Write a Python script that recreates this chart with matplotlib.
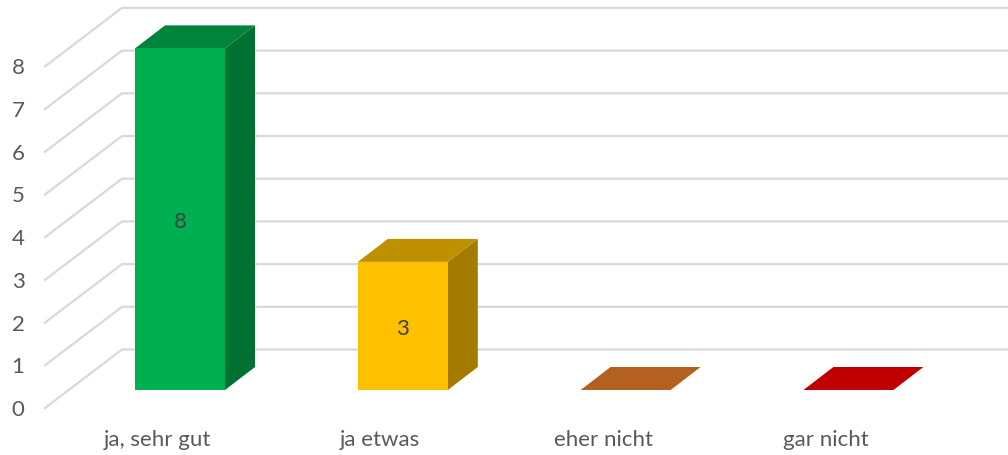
import matplotlib
matplotlib.use("Agg")
import matplotlib.pyplot as plt
from matplotlib.patches import Polygon

plt.rcParams['font.family'] = ['Lato', 'DejaVu Sans']

categories = ["ja, sehr gut", "ja etwas", "eher nicht", "gar nicht"]
values = [8, 3, 0, 0]
y_ticks = [0, 1, 2, 3, 4, 5, 6, 7, 8]

# front, top, side colours of each column
front_colors = ["#00B050", "#FFC000", "#C55A11", "#C00000"]
top_colors = ["#00843C", "#BF9000", "#B46020", "#C00000"]
side_colors = ["#007033", "#A37B00", "#8A4A10", "#8A0000"]

text_color = "#595959"
grid_color = "#D9D9D9"

# sizes in axis units, 1 category = 222.8 px, 1 value = 42.7 px
bar_w = 90 / 222.8
depth_x = 30 / 222.8
depth_y = 23 / 42.7

fig = plt.figure(figsize=(10.08, 4.55), dpi=100)
ax = fig.add_axes([0, 0, 1, 1])
ax.set_xlim(-180 / 222.8, (1008 - 180) / 222.8)
ax.set_ylim(-65 / 42.7, 390 / 42.7)
ax.axis("off")

# gridlines, floor sits a bit off the columns
grid_x0, grid_x1, grid_x2 = -135 / 222.8, -58 / 222.8, (1008 - 180) / 222.8
grid_y0, grid_y1 = -18 / 42.7, 40.5 / 42.7
for v in y_ticks:
    ax.plot([grid_x0, grid_x1, grid_x2], [v + grid_y0, v + grid_y1, v + grid_y1],
            color=grid_color, lw=1.6, zorder=1, solid_joinstyle="miter")
    ax.text(-162 / 222.8, v - 20 / 42.7, str(v), ha="center", va="center",
            fontsize=16, color=text_color)

for i, (name, val) in enumerate(zip(categories, values)):
    l = i - bar_w / 2
    r = i + bar_w / 2
    # side, top, then front
    ax.add_patch(Polygon([(r, 0), (r + depth_x, depth_y), (r + depth_x, val + depth_y), (r, val)],
                         closed=True, fc=side_colors[i], ec="none", zorder=2))
    ax.add_patch(Polygon([(l, val), (l + depth_x, val + depth_y), (r + depth_x, val + depth_y), (r, val)],
                         closed=True, fc=top_colors[i], ec="none", zorder=3))
    ax.add_patch(Polygon([(l, 0), (r, 0), (r, val), (l, val)],
                         closed=True, fc=front_colors[i], ec="none", zorder=4))
    if val > 0:
        ax.text(i, val / 2 - 3 / 42.7, str(val), ha="center", va="center", fontsize=16,
                color="#404040", zorder=5)
    ax.text(i - 22.5 / 222.8, -50 / 42.7, name, ha="center", va="center",
            fontsize=16, color=text_color)

fig.savefig("out.png", dpi=100)
